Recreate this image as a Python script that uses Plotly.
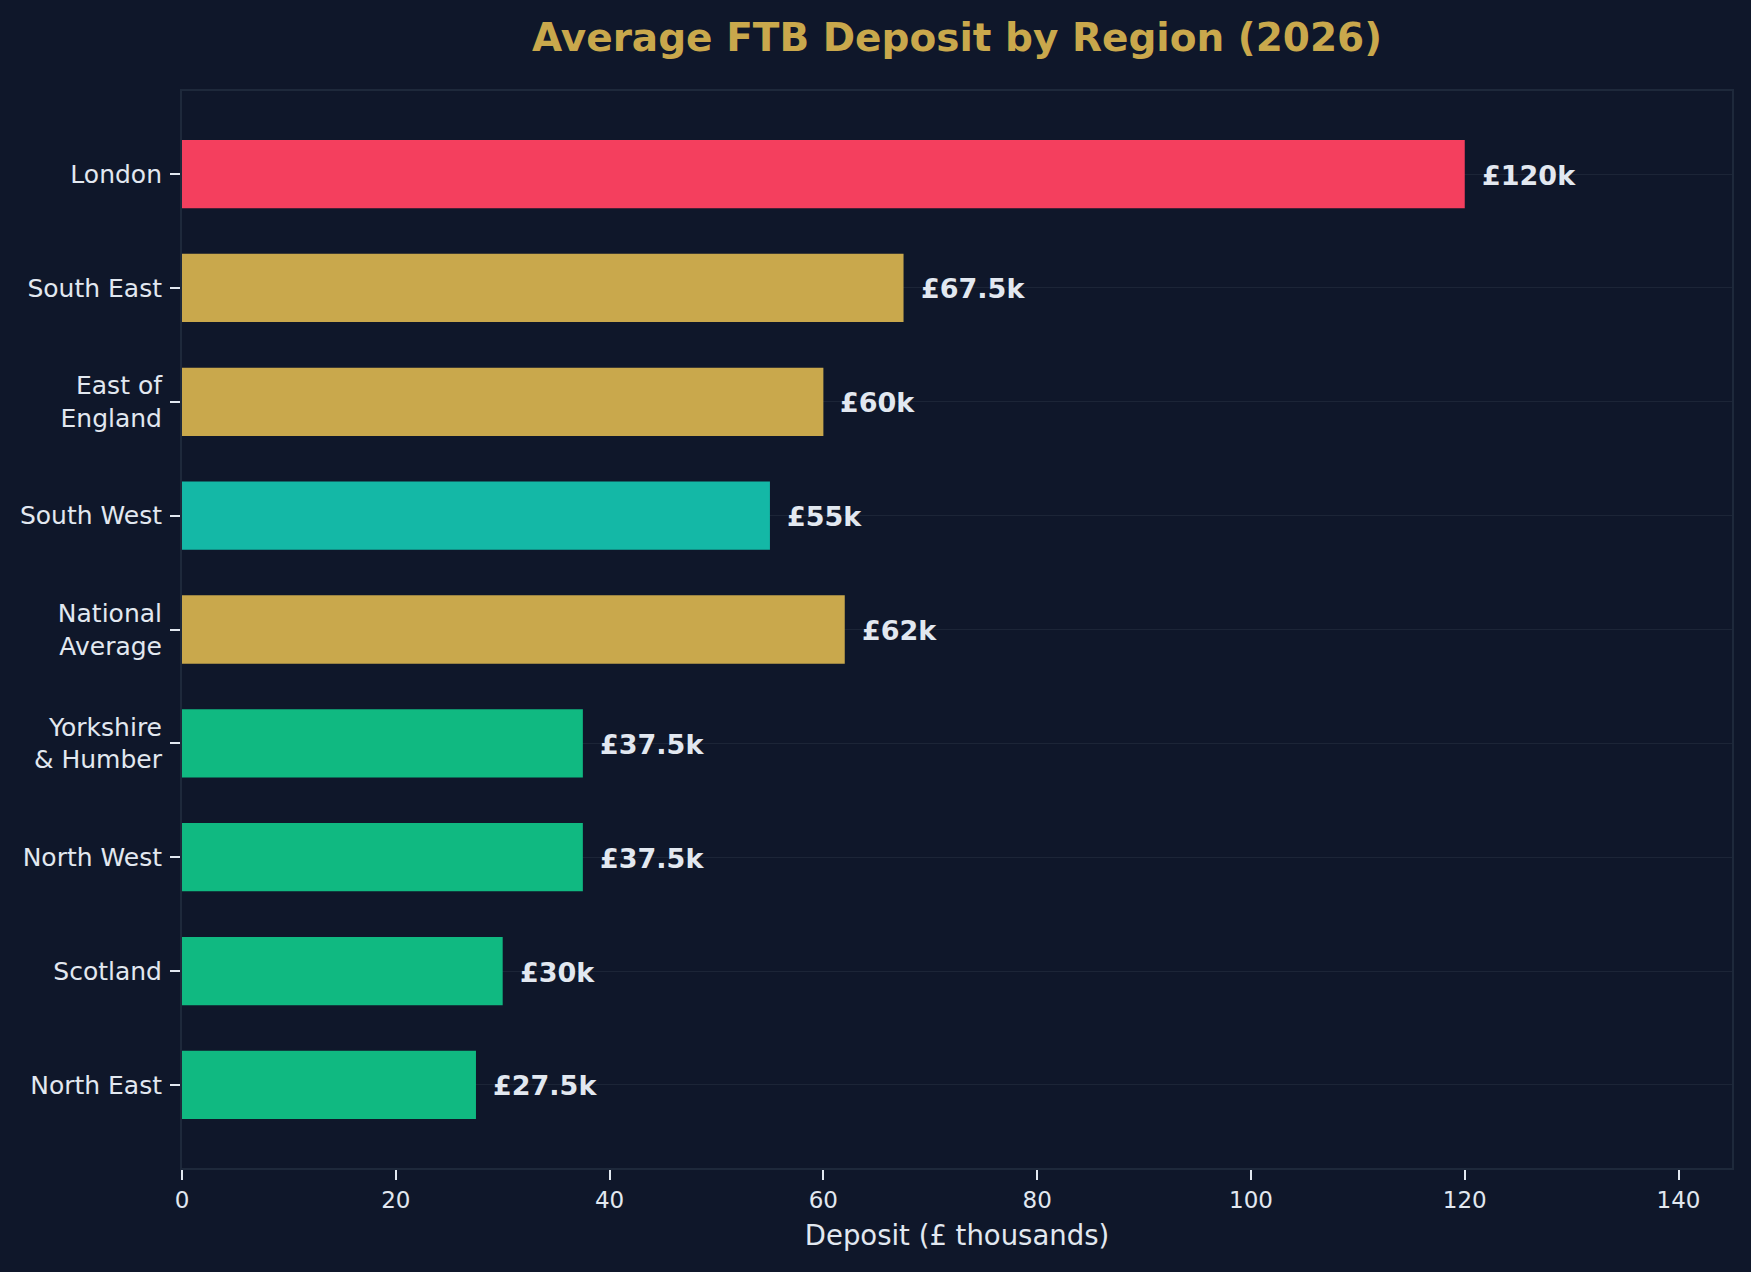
import plotly.graph_objects as go

regions = ["London", "South East", "East of<br>England", "South West", "National<br>Average",
           "Yorkshire<br>& Humber", "North West", "Scotland", "North East"]
deposits = [120, 67.5, 60, 55, 62, 37.5, 37.5, 30, 27.5]
value_labels = ["£120k", "£67.5k", "£60k", "£55k", "£62k", "£37.5k", "£37.5k", "£30k", "£27.5k"]
bar_colors = ["#f43f5e", "#c9a84c", "#c9a84c", "#14b8a6", "#c9a84c",
              "#10b981", "#10b981", "#10b981", "#10b981"]
x_ticks = [0, 20, 40, 60, 80, 100, 120, 140]

BG = "#0f172a"
TXT = "#e2e8f0"
GOLD = "#c9a84c"
FONT = "DejaVu Sans"

fig = go.Figure()
fig.add_trace(go.Bar(
    x=deposits, y=regions, orientation="h",
    marker=dict(color=bar_colors, line=dict(width=0)),
    width=0.6, hoverinfo="skip",
))

for r, v, lab in zip(regions, deposits, value_labels):
    fig.add_annotation(x=v, y=r, text="<b>" + lab + "</b>", showarrow=False,
                       xanchor="left", yanchor="middle", xshift=15, yshift=-1,
                       font=dict(family=FONT, size=27, color=TXT))

fig.update_layout(
    width=1751, height=1272,
    paper_bgcolor=BG, plot_bgcolor=BG,
    margin=dict(l=182, r=19, t=91, b=104),
    showlegend=False,
    title=dict(text="<b>Average FTB Deposit by Region (2026)</b>",
               x=0.5, xanchor="center", xref="paper",
               y=1 - 37 / 1272, yanchor="middle", yref="container",
               font=dict(family=FONT, size=39, color=GOLD)),
    font=dict(family=FONT, color=TXT),
)

fig.update_xaxes(
    range=[0, 145], tickvals=x_ticks, ticktext=[str(t) for t in x_ticks],
    showgrid=False, zeroline=False,
    showline=True, mirror=True, linecolor="#1e293b", linewidth=2,
    ticks="outside", ticklen=10, tickwidth=1.5, tickcolor=TXT,
    tickfont=dict(family=FONT, size=23, color=TXT),
    title=dict(text="Deposit (£ thousands)", font=dict(family=FONT, size=27.5, color=TXT), standoff=14),
)
fig.update_yaxes(
    type="category", categoryorder="array", categoryarray=regions,
    range=[8.73, -0.73],
    showgrid=True, gridcolor="#1c2537", gridwidth=1,
    zeroline=False,
    showline=True, mirror=True, linecolor="#1e293b", linewidth=2,
    ticks="outside", ticklen=10, tickwidth=1.5, tickcolor=TXT,
    ticklabelstandoff=3,
    tickfont=dict(family=FONT, size=25, color=TXT),
)

fig.write_html("out.html")
